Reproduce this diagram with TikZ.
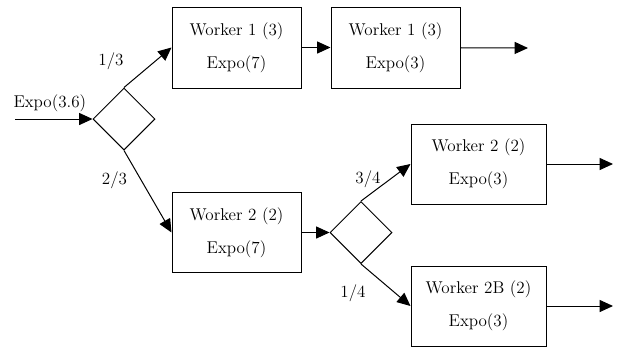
\documentclass[tikz,border=0pt]{standalone}
\usepackage{fontspec}
\usetikzlibrary{shapes.geometric,arrows.meta,positioning}

\begin{document}
\begin{tikzpicture}[
        x=0.75pt, y=-0.75pt,
        worker/.style={rectangle, draw=black, line width=0.75pt, minimum width=96.75pt, minimum height=60.75pt, align=center, font=\fontsize{12.8}{24.75}\selectfont},
        wide/.style={worker, minimum width=101.25pt, minimum height=60pt},
        split/.style={diamond, draw=black, line width=0.75pt, minimum size=46.5pt, inner sep=0pt},
        prob/.style={font=\fontsize{12.8}{16}\selectfont, inner sep=0pt},
        flow/.style={line width=0.75pt, -{Triangle[length=10pt, width=9pt]}}
    ]
    \useasboundingbox (0,0) rectangle (622,347);

    % Stations
    \node[split] (first) at (124,119) {};
    \node[worker] (oneA) at (236.5,47.5) {Worker 1 (3)\\Expo(7)};
    \node[worker] (oneB) at (395.5,47.5) {Worker 1 (3)\\Expo(3)};
    \node[worker, minimum height=60pt] (twoA) at (236.5,232.5) {Worker 2 (2)\\Expo(7)};
    \node[split] (second) at (361,232.5) {};
    \node[wide] (twoB) at (478.5,164) {Worker 2 (2)\\Expo(3)};
    \node[wide] (twoC) at (478.5,306) {Worker 2B (2)\\Expo(3)};

    % Entry and exits
    \coordinate (arrive) at (15,119);
    \coordinate (leaveA) at (528,48);
    \coordinate (leaveB) at (613,164);
    \coordinate (leaveC) at (613,306);

    % Branch probabilities
    \node[prob] (pOne) at (111,61) {1/3};
    \node[prob] (pTwo) at (114.5,180) {2/3};
    \node[prob] (pThree) at (368,179) {3/4};
    \node[prob] (pFour) at (353,293) {1/4};

    % Flows
    \draw[flow] (arrive) -- node[prob, above=5pt, pos=0.45] (rate) {Expo(3.6)} (first.west);
    \draw[flow] (first.north) -- (oneA.west);
    \draw[flow] (first.south) -- (twoA.west);
    \draw[flow] (oneA) -- (oneB);
    \draw[flow] (oneB) -- (leaveA);
    \draw[flow] (twoA) -- (second.west);
    \draw[flow] (second.north) -- (twoB.west);
    \draw[flow] (second.south) -- (twoC.west);
    \draw[flow] (twoB) -- (leaveB);
    \draw[flow] (twoC) -- (leaveC);

\end{tikzpicture}
\end{document}
